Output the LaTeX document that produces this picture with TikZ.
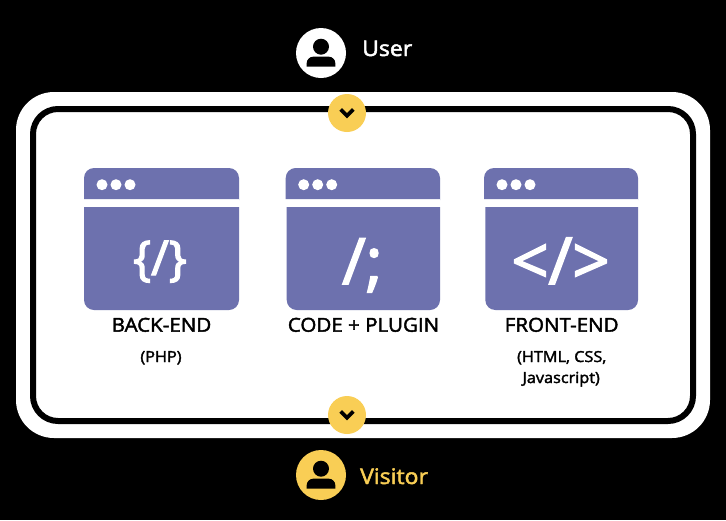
\documentclass[tikz,border=0pt]{standalone}
\usepackage{fontspec}
\setmainfont{Open Sans}
\newfontfamily\semi[FakeBold=2.2,FakeStretch=1.07]{Open Sans}
\newfontfamily\heavy[FakeBold=2.5]{Open Sans}
\definecolor{sun}{HTML}{F9CE55}
\definecolor{violet}{HTML}{6D71AE}
\tikzset{
  lab/.style={inner sep=0pt,anchor=base,text=black,font=\semi\fontsize{19.2}{22}\selectfont},
  sublab/.style={inner sep=0pt,anchor=base,text=black,font=\semi\fontsize{15.2}{18}\selectfont},
  who/.style={inner sep=0pt,anchor=base west,font=\semi\fontsize{21.5}{24}\selectfont},
  glyph/.style={inner sep=0pt,anchor=base,text=white},
  badge/.style={circle,fill=sun,minimum size=38pt,inner sep=0pt},
  avatar/.style={circle,minimum size=50pt,inner sep=0pt},
  chev/.style={draw=black,line width=3.8pt,miter limit=10},
  dot/.style={circle,fill=white,minimum size=11pt,inner sep=0pt},
}
\newcommand{\winicon}[4]{% title left, body left, right, name
  \fill[violet,rounded corners=10pt] (#1,199) [sharp corners] -- (#1,190) [rounded corners=10pt] -- (#1,168) -- (#3,168) -- (#3,190) [sharp corners] -- (#3,199) -- cycle;
  \fill[violet] (#2,207) [rounded corners=10pt] -- (#2,310) -- (#3,310) [sharp corners] -- (#3,207) -- cycle;
  \node[dot] (#4d1) at (#1+18,184.7) {};
  \node[dot] (#4d2) at (#1+32,184.7) {};
  \node[dot] (#4d3) at (#1+46,184.7) {};
}
\newcommand{\person}[3]{% cx, cy, name
  \fill[black] (#1,#2-6.3) circle (8);
  \fill[black] (#1-14.3,#2+13.7) [rounded corners=6.5pt] -- (#1-14.3,#2+3.7) -- (#1+14.3,#2+3.7) [sharp corners] -- (#1+14.3,#2+13.7) -- cycle;
}
\begin{document}
\begin{tikzpicture}[x=1pt,y=-1pt]
\useasboundingbox (0,0) rectangle (726,520);
\fill[black] (0,0) rectangle (726,520);
\fill[white,rounded corners=38pt] (16,92) rectangle (710,438);
\draw[black,line width=6pt,rounded corners=25pt] (33,109) rectangle (693,421);

\winicon{84}{84}{239}{a}
\winicon{285.7}{286.7}{440}{b}
\winicon{484}{485.3}{638}{c}

\node[glyph,font=\heavy\fontsize{48}{52}\selectfont] (g1) at (160,275) {\{/\}};
\node[glyph,font=\heavy\fontsize{64}{70}\selectfont] (g2) at (362.5,284) {/;};
\node[glyph,font=\heavy\fontsize{65}{70}\selectfont] (g3) at (560.5,284) {</>};

\node[lab] (l1) at (161.5,331.7) {BACK-END};
\node[sublab] (s1) at (161,362) {(PHP)};
\node[lab] (l2) at (363.5,331.7) {CODE + PLUGIN};
\node[lab] (l3) at (561.7,331.7) {FRONT-END};
\node[sublab] (s3a) at (561.7,362) {(HTML, CSS,};
\node[sublab] (s3b) at (561.2,383) {Javascript)};

\node[badge] (b1) at (347,113) {};
\node[badge] (b2) at (347,415) {};
\draw[chev] ([shift={(-6.3,-3.5)}]b1.center) -- ([shift={(0,2.7)}]b1.center) -- ([shift={(6.3,-3.5)}]b1.center);
\draw[chev] ([shift={(-6.3,-3.5)}]b2.center) -- ([shift={(0,2.7)}]b2.center) -- ([shift={(6.3,-3.5)}]b2.center);

\node[avatar,fill=white] (u) at (321,53) {};
\person{321}{53}{u}
\node[who,text=white] (ut) at (362,56) {User};
\node[avatar,fill=sun] (v) at (321,475) {};
\person{321}{475}{v}
\node[who,text=sun] (vt) at (360,484) {Visitor};
\end{tikzpicture}
\end{document}
